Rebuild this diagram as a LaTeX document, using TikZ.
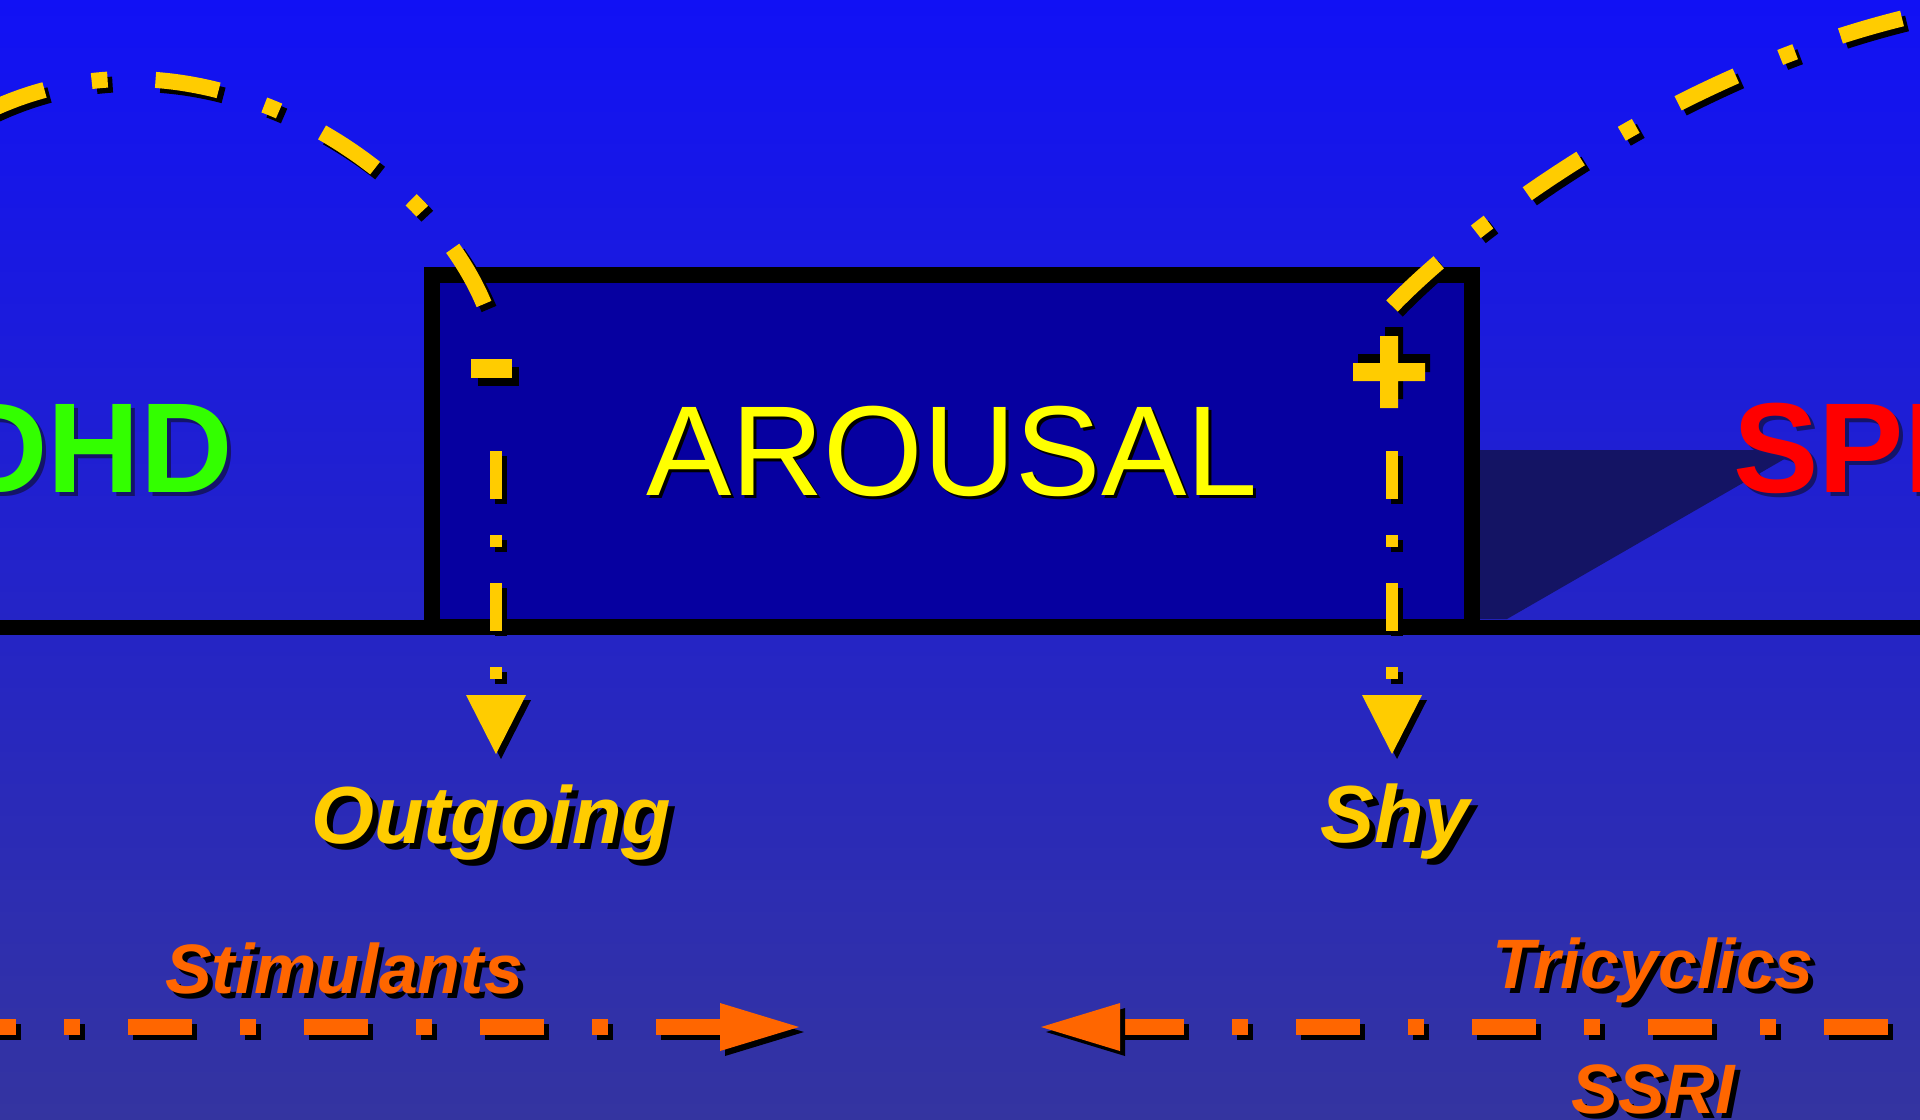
\documentclass[tikz,border=0pt]{standalone}
\usepackage{fontspec}
\setmainfont{Liberation Sans}
\definecolor{bgtop}{RGB}{17,17,245}
\definecolor{bgbot}{RGB}{52,52,160}
\definecolor{boxfill}{RGB}{6,0,160}
\definecolor{navyshade}{RGB}{20,20,100}
\definecolor{gold}{RGB}{255,204,0}
\definecolor{lemon}{RGB}{255,255,0}
\definecolor{orng}{RGB}{255,102,0}
\definecolor{lime}{RGB}{51,255,0}
\definecolor{txtshadow}{RGB}{20,20,105}
\newcommand\shd[3][2.5pt,-2.5pt]{%
  \begin{scope}[transform canvas={shift={(#1)}}]\path[#2,color=black] #3;\end{scope}
  \path[#2] #3;}
\newcommand\shtxt[4]{\makebox[0pt][l]{\kern#2\raisebox{-#3}[0pt][0pt]{\color{#1}#4}}#4}
\begin{document}
\begin{tikzpicture}[x=0.5pt,y=-0.5pt,
  ycurve/.style={draw,color=gold,line width=8pt,line cap=butt,dash pattern=on 32pt off 24pt on 8pt off 24pt},
  yvert/.style={draw,color=gold,line width=6pt,line cap=butt,dash pattern=on 24pt off 18pt on 6pt off 18pt},
  odash/.style={draw,color=orng,line width=8pt,line cap=butt,dash pattern=on 32pt off 24pt on 8pt off 24pt},
  yfill/.style={fill,color=gold},
  ofill/.style={fill,color=orng},
  lbl/.style={inner sep=0pt,anchor=base,font=\fontsize{40.5pt}{40.5pt}\selectfont\bfseries\itshape,text=gold},
  drug/.style={inner sep=0pt,anchor=base,font=\fontsize{35pt}{35pt}\selectfont\bfseries\itshape,text=orng},
  diag/.style={inner sep=0pt,font=\fontsize{64pt}{64pt}\selectfont\bfseries},
  arbox/.style={draw=black,line width=8pt,fill=boxfill,minimum width=520pt,minimum height=176pt,inner sep=0pt,text=lemon,font=\fontsize{64pt}{64pt}\selectfont},
]
\useasboundingbox (0,0) rectangle (1920,1119);
\clip (0,0) rectangle (1920,1119);
\shade[top color=bgtop,bottom color=bgbot] (0,0) rectangle (1920,1119);

% dark wedge right of the box
\fill[navyshade] (1480,450) -- (1800,450) -- (1507,619) -- (1480,619) -- cycle;

% side labels
\node[diag,text=lime,anchor=base east] (adhd) at (233,492) {\shtxt{txtshadow}{2pt}{2pt}{ADHD}};
\node[diag,text=red,anchor=base west] (spd) at (1733,492) {\shtxt{txtshadow}{2pt}{2pt}{SPD}};

% arousal box
\node[arbox] (arousal) at (952,451) {\shtxt{black}{1.5pt}{1.5pt}{AROUSAL}};

% base line
\coordinate (baseL) at (0,627);
\coordinate (baseR) at (1920,627);
\draw[line width=7.5pt] (baseL) -- (baseR);

% curves
\coordinate (lcA) at (484,304);
\coordinate (lcB) at (-40,126);
\shd{ycurve}{(lcA) .. controls (420,150) and (170,0) .. (lcB)}
\coordinate (rcA) at (1392,306);
\coordinate (rcB) at (1950,8);
\shd{ycurve}{(rcA) .. controls (1480,215) and (1700,55) .. (rcB)}

% signs
\shd[3.5pt,-4pt]{yfill}{(471,359) rectangle (512,378)}
\shd[2.5pt,4.5pt]{yfill}{(1380,336) rectangle (1398,408) (1353,363) rectangle (1425,381)}

% vertical dashed arrows
\coordinate (lvA) at (496,451);
\coordinate (lvB) at (496,695);
\shd{yvert}{(lvA) -- (lvB)}
\shd{yfill}{(466,695) -- (526,695) -- (496,754) -- cycle}
\coordinate (rvA) at (1392,451);
\coordinate (rvB) at (1392,695);
\shd{yvert}{(rvA) -- (rvB)}
\shd{yfill}{(1362,695) -- (1422,695) -- (1392,754) -- cycle}

\node[lbl] (outgoing) at (491,843) {\shtxt{black}{3pt}{3pt}{Outgoing}};
\node[lbl] (shy) at (1395,842) {\shtxt{black}{3pt}{3pt}{Shy}};

% orange arrows
\coordinate (saBase) at (720,1027);
\coordinate (saFar) at (-20,1027);
\shd{odash}{(saBase) -- (saFar)}
\shd{ofill}{(720,1003) -- (799,1027) -- (720,1051) -- cycle}
\coordinate (taBase) at (1120,1027);
\coordinate (taFar) at (1940,1027);
\shd{odash}{(taBase) -- (taFar)}
\shd{ofill}{(1120,1003) -- (1041,1027) -- (1120,1051) -- cycle}

\node[drug] (stim) at (344,993) {\shtxt{black}{2.5pt}{2.5pt}{Stimulants}};
\node[drug] (tri) at (1653,988) {\shtxt{black}{2.5pt}{2.5pt}{Tricyclics}};
\node[drug] (ssri) at (1653,1113) {\shtxt{black}{2.5pt}{2.5pt}{SSRI}};
\end{tikzpicture}
\end{document}
